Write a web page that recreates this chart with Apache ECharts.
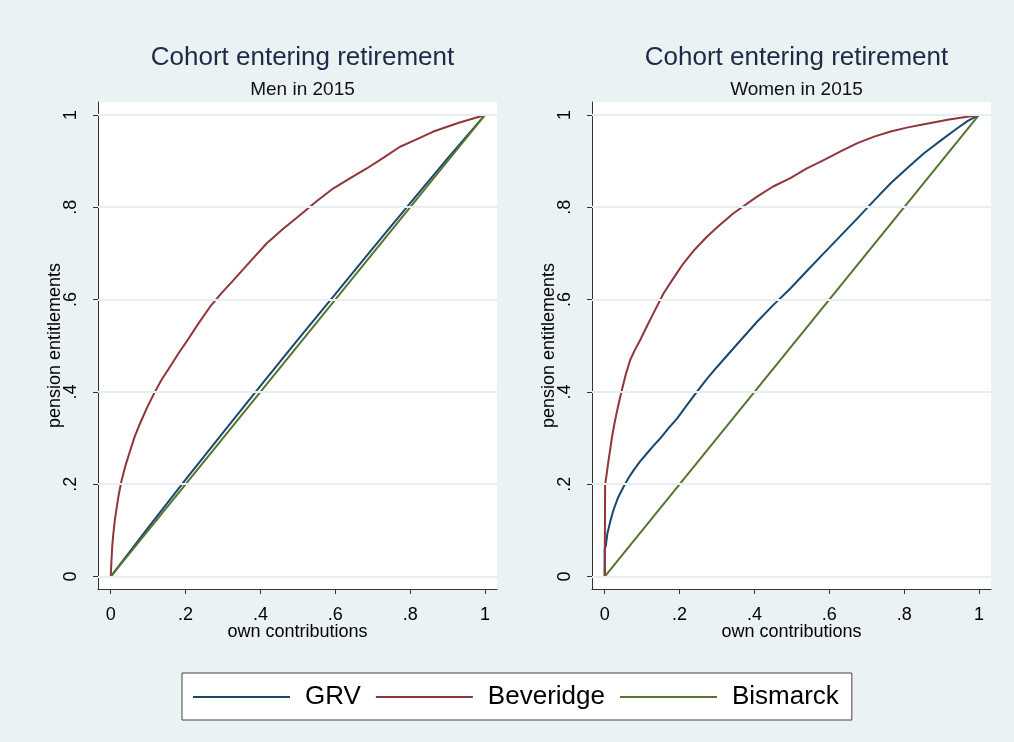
<!DOCTYPE html>
<html>
<head>
<meta charset="utf-8">
<script src="https://cdn.jsdelivr.net/npm/echarts@6/dist/echarts.min.js"></script>
<style>
  html, body { margin: 0; padding: 0; background: #eaf2f3; }
  #chart { width: 1014px; height: 742px; }
</style>
</head>
<body>
<div id="chart"></div>
<script>
// ---------- data ----------
const tickValues = [0, 0.2, 0.4, 0.6, 0.8, 1];
const tickLabels = ['0', '.2', '.4', '.6', '.8', '1'];

const panelTitles = ['Cohort entering retirement', 'Cohort entering retirement'];
const panelSubtitles = ['Men in 2015', 'Women in 2015'];
const seriesNames = ['GRV', 'Beveridge', 'Bismarck'];

// Men in 2015
const menGRV = [[0,0],[0.1,0.106],[0.2,0.21],[0.3,0.312],[0.4,0.413],[0.5,0.513],[0.6,0.612],[0.7,0.711],[0.8,0.809],[0.9,0.906],[1,1]];
const menBeveridge = [[0,0],[0.002,0.035],[0.004,0.065],[0.007,0.093],[0.011,0.122],[0.016,0.150],[0.022,0.180],[0.029,0.208],[0.040,0.242],[0.052,0.273],[0.064,0.303],[0.078,0.331],[0.097,0.366],[0.118,0.400],[0.137,0.428],[0.158,0.454],[0.180,0.482],[0.205,0.512],[0.235,0.549],[0.265,0.584],[0.296,0.614],[0.328,0.642],[0.370,0.680],[0.417,0.722],[0.460,0.753],[0.506,0.783],[0.550,0.813],[0.595,0.841],[0.640,0.863],[0.684,0.884],[0.730,0.908],[0.773,0.931],[0.820,0.948],[0.862,0.964],[0.930,0.983],[1,1]];
const menBismarck = [[0,0],[1,1]];

// Women in 2015
const womenGRV = [[0,0],[0,0.06],[0.003,0.067],[0.007,0.093],[0.015,0.120],[0.023,0.143],[0.035,0.170],[0.050,0.194],[0.063,0.213],[0.077,0.230],[0.094,0.249],[0.112,0.266],[0.130,0.283],[0.148,0.299],[0.170,0.321],[0.193,0.342],[0.220,0.372],[0.246,0.400],[0.273,0.428],[0.300,0.454],[0.350,0.500],[0.407,0.552],[0.450,0.588],[0.496,0.624],[0.540,0.662],[0.585,0.700],[0.630,0.738],[0.675,0.776],[0.720,0.815],[0.764,0.852],[0.810,0.886],[0.853,0.917],[0.900,0.946],[0.942,0.971],[0.970,0.987],[1,1]];
const womenBeveridge = [[0,0],[0.001,0.197],[0.0025,0.208],[0.0054,0.223],[0.009,0.245],[0.0142,0.273],[0.020,0.305],[0.0276,0.338],[0.036,0.370],[0.0455,0.403],[0.056,0.437],[0.068,0.469],[0.080,0.490],[0.0945,0.512],[0.112,0.541],[0.130,0.570],[0.157,0.613],[0.185,0.648],[0.210,0.678],[0.240,0.708],[0.273,0.736],[0.305,0.760],[0.344,0.787],[0.407,0.823],[0.450,0.845],[0.496,0.863],[0.540,0.884],[0.585,0.902],[0.630,0.921],[0.675,0.939],[0.720,0.953],[0.764,0.964],[0.810,0.973],[0.853,0.980],[0.920,0.990],[1,1]];
const womenBismarck = [[0,0],[1,1]];

// ---------- styles ----------
const FONT = "'Liberation Sans', Arial, sans-serif";
const colors = { GRV: '#1a476f', Beveridge: '#90353b', Bismarck: '#55752f' };
const gridBoxes = [
  { left: 98, top: 102, width: 399, height: 487 },
  { left: 592, top: 102, width: 399, height: 487 }
];
const X_MIN = -0.034, X_MAX = 1.032, Y_MIN = -0.027, Y_MAX = 1.028;

function labelFor(v) {
  for (let i = 0; i < tickValues.length; i++) {
    if (Math.abs(tickValues[i] - v) < 1e-9) return tickLabels[i];
  }
  return '';
}

const axisCommon = {
  type: 'value',
  axisLine: { show: true, onZero: false, lineStyle: { color: '#333', width: 1 } },
  axisTick: { show: true, customValues: tickValues, length: 5, lineStyle: { color: '#333', width: 1 } },
  splitLine: { show: false },
  nameLocation: 'middle',
  nameMoveOverlap: false,
  nameTextStyle: { fontSize: 18, color: '#000', fontFamily: FONT }
};

const xAxes = [], yAxes = [], series = [], titles = [];
const panels = [
  { grv: menGRV, bev: menBeveridge, bis: menBismarck },
  { grv: womenGRV, bev: womenBeveridge, bis: womenBismarck }
];

panels.forEach((p, i) => {
  const g = gridBoxes[i];
  const cx = g.left + g.width / 2;
  titles.push({
    text: panelTitles[i], left: cx, top: 40, textAlign: 'center',
    textStyle: { fontSize: 26, fontWeight: 'normal', color: '#1c2a48', fontFamily: FONT }
  });
  titles.push({
    text: panelSubtitles[i], left: cx, top: 75, textAlign: 'center',
    textStyle: { fontSize: 19, fontWeight: 'normal', color: '#111', fontFamily: FONT }
  });
  xAxes.push(Object.assign({}, axisCommon, {
    gridIndex: i, min: X_MIN, max: X_MAX,
    name: 'own contributions', nameGap: 34,
    axisLabel: { customValues: tickValues, formatter: labelFor, fontSize: 18, color: '#000', fontFamily: FONT, margin: 17 }
  }));
  yAxes.push(Object.assign({}, axisCommon, {
    gridIndex: i, min: Y_MIN, max: Y_MAX,
    name: 'pension entitlements', nameGap: 34,
    axisLabel: { customValues: tickValues, formatter: labelFor, rotate: 90, fontSize: 18, color: '#000', fontFamily: FONT, margin: 18 }
  }));
  // horizontal grid lines
  series.push({
    type: 'line', xAxisIndex: i, yAxisIndex: i, data: [], silent: true, z: 1,
    markLine: {
      silent: true, symbol: ['none', 'none'], label: { show: false },
      lineStyle: { color: '#e6eef0', width: 2, type: 'solid' },
      data: tickValues.map(v => ({ yAxis: v }))
    }
  });
  const lines = [['GRV', p.grv], ['Beveridge', p.bev], ['Bismarck', p.bis]];
  lines.forEach(([name, data]) => {
    series.push({
      name, type: 'line', xAxisIndex: i, yAxisIndex: i, data,
      showSymbol: false, symbol: 'none', smooth: false, z: 3,
      lineStyle: { color: colors[name], width: 2, join: 'round' },
      itemStyle: { color: colors[name] }
    });
  });
});

const chart = echarts.init(document.getElementById('chart'), null, { renderer: 'canvas' });
chart.setOption({
  backgroundColor: '#eaf2f3',
  animation: false,
  title: titles,
  grid: gridBoxes.map(g => Object.assign({ show: true, backgroundColor: '#ffffff', borderWidth: 0 }, g)),
  xAxis: xAxes,
  yAxis: yAxes,
  legend: {
    data: seriesNames,
    left: 182, top: 673,
    orient: 'horizontal',
    icon: 'rect', itemWidth: 97, itemHeight: 2, itemGap: 15,
    padding: [11, 13, 10, 11],
    borderColor: '#444', borderWidth: 1, backgroundColor: '#ffffff',
    textStyle: { fontSize: 26, color: '#000', fontFamily: FONT, padding: [0, 0, 0, 10] }
  },
  series
});
</script>
</body>
</html>
